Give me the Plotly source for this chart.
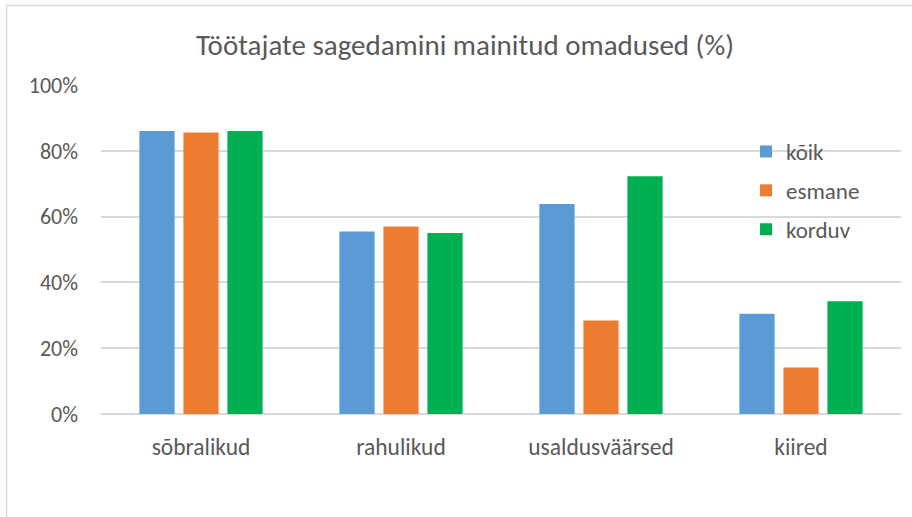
import plotly.graph_objects as go

categories = ["sõbralikud", "rahulikud", "usaldusväärsed", "kiired"]
series_names = ["kõik", "esmane", "korduv"]
kõik = [86.0, 55.5, 63.8, 30.5]
esmane = [85.6, 57.0, 28.4, 14.1]
korduv = [86.0, 55.0, 72.3, 34.3]
colors = ["#5B9BD5", "#ED7D31", "#00B050"]
y_ticks = [0, 20, 40, 60, 80, 100]
y_tick_labels = ["0%", "20%", "40%", "60%", "80%", "100%"]
title_text = "Töötajate sagedamini mainitud omadused (%)"

FONT = "Carlito, Lato, sans-serif"
GREY = "#595959"

W, H = 912, 517
ml, mt = 101, 85
pw, ph = 800, 329
mr, mb = W - ml - pw, H - mt - ph

def px_to_paper_x(px):
    return (px - ml) / pw

def px_to_paper_y(py):
    return (mt + ph - py) / ph

fig = go.Figure()
for i, (name, vals) in enumerate(zip(series_names, [kõik, esmane, korduv])):
    fig.add_trace(go.Bar(
        x=categories, y=vals, name=name,
        marker=dict(color=colors[i], line=dict(width=0)),
        legendgroup=name,
    ))

border = dict(color="#D9D9D9", width=1.5)
fig.update_layout(
    width=W, height=H,
    margin=dict(l=ml, r=mr, t=mt, b=mb),
    paper_bgcolor="white", plot_bgcolor="white",
    barmode="group", bargap=0.34, bargroupgap=0.2,
    font=dict(family=FONT, color=GREY, size=22),
    title=dict(text=title_text, x=465 / W, xanchor="center", xref="container",
               y=1 - 45 / H, yanchor="middle", yref="container",
               font=dict(family=FONT, size=29, color=GREY)),
    legend=dict(x=px_to_paper_x(746), y=px_to_paper_y(130), xanchor="left", yanchor="top",
                bgcolor="rgba(0,0,0,0)", font=dict(family=FONT, size=23, color=GREY),
                tracegroupgap=6, itemwidth=30),
    showlegend=True,
    xaxis=dict(showgrid=False, showline=False, ticks="", ticklabelstandoff=16,
               tickfont=dict(family=FONT, size=23.5, color=GREY)),
    yaxis=dict(range=[0, 100], tickvals=y_ticks, ticktext=y_tick_labels,
               showgrid=True, gridcolor="#D9D9D9", gridwidth=1.5,
               zeroline=True, zerolinecolor="#D9D9D9", zerolinewidth=1.5,
               showline=False, ticks="", ticklabelstandoff=22,
               tickfont=dict(family=FONT, size=22, color=GREY)),
    shapes=[
        dict(type="line", xref="paper", yref="paper",
             x0=px_to_paper_x(6.5), x1=px_to_paper_x(6.5),
             y0=px_to_paper_y(517), y1=px_to_paper_y(5.5), line=border, layer="below"),
        dict(type="line", xref="paper", yref="paper",
             x0=px_to_paper_x(6.5), x1=px_to_paper_x(912),
             y0=px_to_paper_y(5.5), y1=px_to_paper_y(5.5), line=border, layer="below"),
    ],
)

fig.write_html(
    "out.html",
    config={"displayModeBar": False},
    post_script="document.body.style.margin='0';document.body.style.overflow='hidden';",
)
